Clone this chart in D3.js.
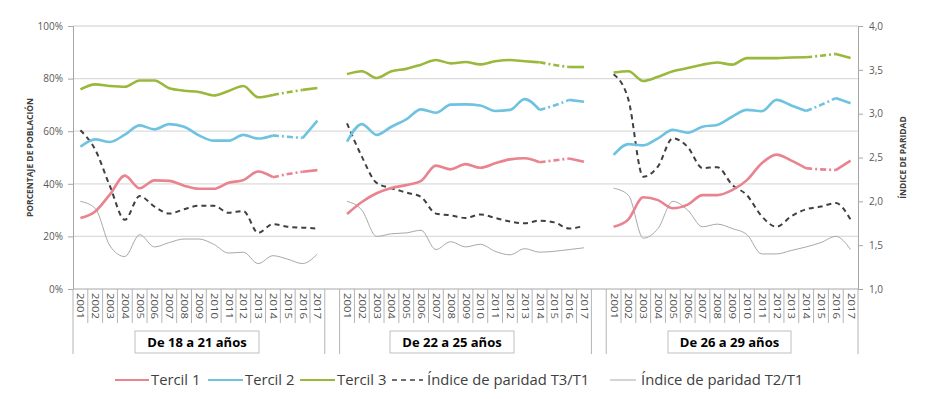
<!DOCTYPE html>
<html><head><meta charset="utf-8">
<script src="https://cdn.jsdelivr.net/npm/d3@7"></script>
<style>
body{margin:0;background:#fff;}
svg{display:block;font-family:"Open Sans",sans-serif;}
</style></head>
<body><svg id="c" width="943" height="399"></svg>
<script>
const years = ["2001","2002","2003","2004","2005","2006","2007","2008","2009","2010","2011","2012","2013","2014","2015","2016","2017"];
const groups = ["De 18 a 21 años","De 22 a 25 años","De 26 a 29 años"];
const leftTicks = [0,0.2,0.4,0.6,0.8,1.0];
const rightTicks = [1.0,1.5,2.0,2.5,3.0,3.5,4.0];
const seriesNames = ["Tercil 1","Tercil 2","Tercil 3","Índice de paridad T3/T1","Índice de paridad T2/T1"];

// Percent values (per group, 2001..2017)
const tercil1 = [
 [27.0,29.5,36.0,43.1,38.3,41.3,41.1,39.3,38.1,38.1,40.4,41.4,44.7,42.5,43.7,44.6,45.2],
 [28.5,33.1,36.4,38.4,39.5,41.1,46.9,45.5,47.5,46.1,47.8,49.3,49.7,48.2,48.9,49.6,48.4],
 [23.7,26.5,34.9,33.8,30.7,32.1,35.7,35.7,37.6,41.4,47.8,51.1,48.8,45.9,45.5,45.2,48.8]];
const tercil2 = [
 [54.1,56.9,55.9,58.7,62.2,60.7,62.7,61.7,58.4,56.4,56.4,58.6,57.2,58.4,57.9,57.4,64.0],
 [56.0,62.7,58.6,61.7,64.5,68.3,67.0,70.1,70.2,69.8,67.7,68.1,72.2,68.1,69.8,71.9,71.2],
 [51.0,55.1,54.6,57.3,60.5,59.4,61.7,62.4,65.5,68.1,67.6,71.9,69.8,67.7,70.0,72.6,70.6]];
const tercil3 = [
 [75.9,77.8,77.2,76.9,79.3,79.3,76.3,75.4,74.9,73.6,75.3,77.2,72.9,73.8,74.8,75.7,76.4],
 [81.7,82.8,80.2,82.8,83.7,85.3,87.1,85.8,86.3,85.4,86.6,87.1,86.6,86.2,85.2,84.4,84.4],
 [82.3,82.8,79.1,80.7,82.8,84.0,85.3,86.1,85.3,87.8,87.8,87.8,88.0,88.1,88.7,89.4,87.8]];
// Parity indices (right axis)
const parT3T1 = [
 [2.81,2.59,2.17,1.79,2.06,1.94,1.86,1.91,1.95,1.95,1.87,1.89,1.64,1.74,1.71,1.70,1.69],
 [2.89,2.51,2.21,2.15,2.10,2.05,1.86,1.84,1.81,1.85,1.81,1.77,1.75,1.78,1.76,1.69,1.72],
 [3.45,3.16,2.28,2.40,2.72,2.62,2.38,2.39,2.19,2.07,1.83,1.71,1.83,1.91,1.94,1.98,1.79]];
const parT2T1 = [
 [2.00,1.92,1.49,1.37,1.62,1.48,1.53,1.57,1.57,1.51,1.41,1.42,1.29,1.38,1.34,1.29,1.40],
 [2.00,1.90,1.60,1.63,1.64,1.67,1.45,1.54,1.48,1.51,1.43,1.39,1.46,1.42,1.43,1.45,1.47],
 [2.15,2.07,1.58,1.69,2.00,1.90,1.71,1.74,1.69,1.62,1.40,1.40,1.44,1.48,1.53,1.60,1.45]];

const colT1="#E8838F", colT2="#6FC3E0", colT3="#99B93D", colP31="#404040", colP21="#A8A8A8";

const svg = d3.select("#c");
const L=73, R=858, T=26, B=289;

// categories: group years + blank separators
const cats=[];
groups.forEach((g,gi)=>{ years.forEach(y=>cats.push(gi+"-"+y)); if(gi<groups.length-1) cats.push("blank"+gi); });
const x = d3.scaleBand().domain(cats).range([L,R]).paddingInner(0).paddingOuter(0);
const bw = x.bandwidth();
const cx = k => x(k)+bw/2;
const yL = d3.scaleLinear().domain([0,1]).range([B,T]);
const yR = d3.scaleLinear().domain([1,4]).range([B,T]);

// gridlines
svg.append("g").selectAll("line").data(leftTicks.filter(d=>d>0)).join("line")
  .attr("x1",L).attr("x2",R).attr("y1",d=>yL(d)).attr("y2",d=>yL(d))
  .attr("stroke","#DCDCDC").attr("stroke-width",1.3);

// left axis
const gl = svg.append("g").attr("transform",`translate(${L},0)`)
  .call(d3.axisLeft(yL).tickValues(leftTicks).tickFormat(d3.format(".0%")).tickSize(5).tickPadding(5));
gl.select(".domain").attr("stroke","#A6A6A6");
gl.selectAll(".tick line").attr("stroke","#A6A6A6");
gl.selectAll("text").attr("fill","#595959").attr("font-size",10).attr("font-family","Open Sans");

// right axis
const gr = svg.append("g").attr("transform",`translate(${R},0)`)
  .call(d3.axisRight(yR).tickValues(rightTicks).tickFormat(d=>d.toFixed(1).replace(".",",")).tickSize(5).tickPadding(6));
gr.select(".domain").attr("stroke","#A6A6A6");
gr.selectAll(".tick line").attr("stroke","#A6A6A6");
gr.selectAll("text").attr("fill","#595959").attr("font-size",10).attr("font-family","Open Sans");

// axis titles
svg.append("text").attr("transform",`translate(33,${(T+B)/2}) rotate(-90)`)
  .attr("text-anchor","middle").attr("font-size",8.5).attr("font-weight","bold").attr("fill","#404040")
  .text("PORCENTAJE DE POBLACIÓN");
svg.append("text").attr("transform",`translate(906,${(T+B)/2}) rotate(-90)`)
  .attr("text-anchor","middle").attr("font-size",8.5).attr("font-weight","bold").attr("fill","#404040")
  .text("ÍNDICE DE PARIDAD");

// bottom category axis
const ax = svg.append("g");
ax.append("line").attr("x1",L).attr("x2",R).attr("y1",B).attr("y2",B).attr("stroke","#A6A6A6");
const boundaries=[];
cats.forEach((k,i)=>{ boundaries.push({x:x(k), long: k.startsWith("blank") || i===0}); });
boundaries.push({x:R,long:true});
cats.forEach((k,i)=>{ if(k.startsWith("blank")) boundaries[i+1].long=true; });
ax.selectAll("line.tk").data(boundaries).join("line").attr("class","tk")
  .attr("x1",d=>d.x).attr("x2",d=>d.x).attr("y1",B).attr("y2",d=>d.long?354:323)
  .attr("stroke","#B4B4B4").attr("stroke-width",1);
ax.selectAll("text.yr").data(cats.filter(k=>!k.startsWith("blank"))).join("text").attr("class","yr")
  .attr("transform",k=>`translate(${cx(k)},293) rotate(90)`)
  .attr("dy","0.35em").attr("font-size",8.5).attr("fill","#505050")
  .attr("textLength",26).attr("lengthAdjust","spacingAndGlyphs")
  .text(k=>k.split("-")[1]);

// group labels with boxes
const boxX=[[135,259],[390,514],[668,791]];
groups.forEach((g,gi)=>{
  const [a,b]=boxX[gi];
  svg.append("rect").attr("x",a).attr("y",331).attr("width",b-a).attr("height",22)
    .attr("fill","#fff").attr("stroke","#BFBFBF");
  svg.append("text").attr("x",(a+b)/2).attr("y",342).attr("dy","0.35em").attr("text-anchor","middle")
    .attr("font-size",13).attr("font-weight","bold").attr("fill","#000").text(g);
});

// lines
const curve = d3.curveMonotoneX;
function drawSeries(data, yScale, scale, color, width, baseDash, breakDash){
  data.forEach((vals,gi)=>{
    const pts = vals.map((v,i)=>({k:gi+"-"+years[i], v:v*scale}));
    const line = d3.line().x(d=>cx(d.k)).y(d=>yScale(d.v)).curve(curve);
    if(breakDash){
      const segs=[[0,13,null],[13,15,breakDash],[15,16,null]];
      segs.forEach(([s,e,dash])=>{
        svg.append("path").attr("d",line(pts.slice(s,e+1))).attr("fill","none")
          .attr("stroke",color).attr("stroke-width",width).attr("stroke-linejoin","round")
          .attr("stroke-dasharray",dash);
      });
    } else {
      svg.append("path").attr("d",line(pts)).attr("fill","none")
        .attr("stroke",color).attr("stroke-width",width).attr("stroke-linejoin","round")
        .attr("stroke-dasharray",baseDash);
    }
  });
}
drawSeries(parT2T1, yR, 1, colP21, 1, null, null);
drawSeries(parT3T1, yR, 1, colP31, 2, "5,4", null);
drawSeries(tercil1, yL, 0.01, colT1, 2.6, null, "6,3,2,3");
drawSeries(tercil2, yL, 0.01, colT2, 2.6, null, "6,3,2,3");
drawSeries(tercil3, yL, 0.01, colT3, 2.6, null, "6,3,2,3");

// legend
const legend = [
 {name:seriesNames[0], c:colT1, w:2.2, dash:null, x1:115, x2:149, tx:151},
 {name:seriesNames[1], c:colT2, w:2.2, dash:null, x1:208, x2:243, tx:245},
 {name:seriesNames[2], c:colT3, w:2.2, dash:null, x1:300, x2:335, tx:337},
 {name:seriesNames[3], c:colP31, w:1.6, dash:"5,4", x1:392, x2:423, tx:427},
 {name:seriesNames[4], c:colP21, w:1, dash:null, x1:610, x2:636, tx:641}
];
const ly=380;
legend.forEach(d=>{
  svg.append("line").attr("x1",d.x1).attr("x2",d.x2).attr("y1",ly).attr("y2",ly)
    .attr("stroke",d.c).attr("stroke-width",d.w).attr("stroke-dasharray",d.dash);
  svg.append("text").attr("x",d.tx).attr("y",ly).attr("dy","0.35em").attr("font-size",14.8)
    .attr("fill","#404040").text(d.name);
});
</script></body></html>
